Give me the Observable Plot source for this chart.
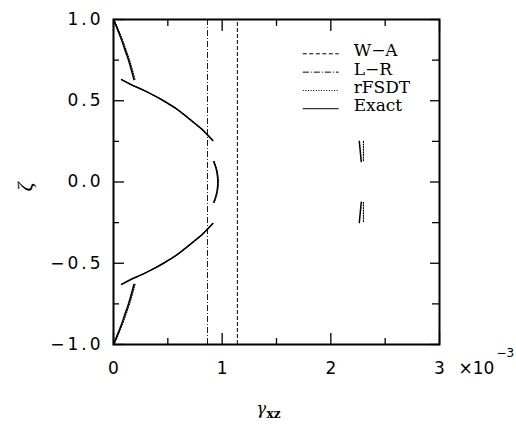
<!DOCTYPE html>
<html>
<head>
<meta charset="utf-8">
<script src="https://cdn.jsdelivr.net/npm/d3@7"></script>
<script src="https://cdn.jsdelivr.net/npm/@observablehq/plot@0.6"></script>
<style>
  html, body { margin: 0; padding: 0; background: white; }
</style>
</head>
<body>
<div id="chart"></div>
<script>
// ---- data (gamma_xz in units of 1e-3, zeta in [-1,1]) ----
const zetaTopFace   = [1.0, 0.95, 0.894, 0.85, 0.809, 0.77, 0.727, 0.68, 0.63];
const exactTopFace  = [0.0, 0.03, 0.063, 0.087, 0.107, 0.128, 0.148, 0.168, 0.188];
const rfsdtTopFace  = [0.005, 0.037, 0.071, 0.096, 0.117, 0.138, 0.158, 0.178, 0.198];

const zetaLayer2    = [0.63, 0.6, 0.567, 0.53, 0.5, 0.45, 0.409, 0.36, 0.327, 0.29, 0.255];
const exactLayer2   = [0.074, 0.16, 0.27, 0.38, 0.46, 0.58, 0.66, 0.75, 0.81, 0.865, 0.914];

const zetaShear     = [0.25, 0.125];
const exactShear    = [2.262, 2.28];
const rfsdtShear    = [2.30, 2.30];

const zetaCore      = [0.125, 0.08, 0.04, 0.0, -0.04, -0.08, -0.125];
const exactCore     = [0.923, 0.945, 0.956, 0.96, 0.956, 0.945, 0.923];
const rfsdtCore     = [0.927, 0.95, 0.961, 0.965, 0.961, 0.95, 0.927];

const zetaShearLow  = [-0.125, -0.25];
const exactShearLow = [2.28, 2.262];
const rfsdtShearLow = [2.30, 2.30];

const zetaLayer2Low = [-0.255, -0.29, -0.327, -0.36, -0.409, -0.45, -0.5, -0.53, -0.567, -0.6, -0.63];
const exactLayer2Low= [0.914, 0.865, 0.81, 0.75, 0.66, 0.58, 0.46, 0.38, 0.27, 0.16, 0.074];

const zetaBotFace   = [-0.63, -0.68, -0.727, -0.77, -0.809, -0.85, -0.894, -0.95, -1.0];
const exactBotFace  = [0.188, 0.168, 0.148, 0.128, 0.107, 0.087, 0.063, 0.03, 0.0];
const rfsdtBotFace  = [0.198, 0.178, 0.158, 0.138, 0.117, 0.096, 0.071, 0.037, 0.005];

// Constant solutions
const waValue = [1.14];   // W-A
const lrValue = [0.865];  // L-R

// Ticks
const xMajor = [0, 1, 2, 3];
const xMinor = [0.5, 1.5, 2.5];
const yMajor = [-1, -0.5, 0, 0.5, 1];
const yMinor = [-0.75, -0.25, 0.25, 0.75];

// Legend
const legendLabels = ["W−A", "L−R", "rFSDT", "Exact"];
const legendZeta   = [0.789, 0.676, 0.563, 0.451];
const legendX      = [1.747, 2.077, 2.21];

// Axis titles
const yTitle = "ζ";
const xTitle = ["γ", "xz"];
const xExponent = ["×10", "\u22123"];

// ---- tables built from the arrays ----
function seg(name, zs, gs) { return zs.map((z, i) => ({seg: name, zeta: z, gamma: gs[i]})); }
const exact = [
  ...seg("face", zetaTopFace, exactTopFace),
  ...seg("l2", zetaLayer2, exactLayer2),
  ...seg("sh", zetaShear, exactShear),
  ...seg("core", zetaCore, exactCore),
  ...seg("shl", zetaShearLow, exactShearLow),
  ...seg("l2l", zetaLayer2Low, exactLayer2Low),
  ...seg("facel", zetaBotFace, exactBotFace)
];
const rfsdt = [
  ...seg("face", zetaTopFace, rfsdtTopFace),
  ...seg("l2", zetaLayer2, exactLayer2),
  ...seg("sh", zetaShear, rfsdtShear),
  ...seg("core", zetaCore, rfsdtCore),
  ...seg("shl", zetaShearLow, rfsdtShearLow),
  ...seg("l2l", zetaLayer2Low, exactLayer2Low),
  ...seg("facel", zetaBotFace, rfsdtBotFace)
];
const legend = legendLabels.map((t, i) => ({label: t, zeta: legendZeta[i]}));
const dashes = ["4,2.5", "6,2,1,2", "1,1.6", null];

const blank = () => "";
const fmtY = d => d.toFixed(1).replace("-", "\u2212");

const marks = [
  Plot.ruleX(waValue, {x: d => d, y1: -1, y2: 1, strokeWidth: 1, strokeDasharray: "4,2"}),
  Plot.ruleX(lrValue, {x: d => d, y1: -1, y2: 1, strokeWidth: 0.9, strokeDasharray: "6,2,1,2"}),
  Plot.line(rfsdt, {x: "gamma", y: "zeta", z: "seg", strokeWidth: 1.2, strokeDasharray: "1,1.6", curve: "linear"}),
  Plot.line(exact, {x: "gamma", y: "zeta", z: "seg", strokeWidth: 1.5, curve: "catmull-rom"}),
  ...legend.map((d, i) => Plot.ruleY([d], {y: "zeta", x1: legendX[0], x2: legendX[1], strokeWidth: 1, strokeDasharray: dashes[i]})),
  Plot.text(legend, {x: legendX[2], y: "zeta", text: "label", textAnchor: "start", lineAnchor: "bottom", dy: 2.5, fontFamily: "DejaVu Serif", fontSize: 17}),
  Plot.axisX({ticks: xMajor, tickSize: -11, tickFormat: blank, strokeWidth: 1.3}),
  Plot.axisX({ticks: xMinor, tickSize: -6, tickFormat: blank, strokeWidth: 1.3}),
  Plot.axisX({anchor: "top", ticks: xMajor, tickSize: -11, tickFormat: blank, strokeWidth: 1.3}),
  Plot.axisX({anchor: "top", ticks: xMinor, tickSize: -6, tickFormat: blank, strokeWidth: 1.3}),
  Plot.axisY({ticks: yMajor, tickSize: -11, tickFormat: blank, strokeWidth: 1.3}),
  Plot.axisY({ticks: yMinor, tickSize: -6, tickFormat: blank, strokeWidth: 1.3}),
  Plot.axisY({anchor: "right", ticks: yMajor, tickSize: -10, tickFormat: blank, strokeWidth: 1.3}),
  Plot.axisY({anchor: "right", ticks: yMinor, tickSize: -8, tickFormat: blank, strokeWidth: 1.3}),
  Plot.axisX({ticks: xMajor, tickSize: 0, tickPadding: 17, tickFormat: d => String(d), fontSize: 17, fontFamily: "DejaVu Sans"}),
  Plot.axisY({ticks: yMajor, tickSize: 0, tickPadding: 10, tickFormat: fmtY, fontSize: 17, fontFamily: "DejaVu Sans"}),
  Plot.text([xExponent[0]], {x: 3, y: -1, text: d => d, textAnchor: "start", lineAnchor: "bottom", dx: 19, dy: 29.5, fontSize: 17, fontFamily: "DejaVu Sans"}),
  Plot.text([xExponent[1]], {x: 3, y: -1, text: d => d, textAnchor: "start", lineAnchor: "bottom", dx: 57, dy: 12, fontSize: 12, fontFamily: "DejaVu Sans"}),
  Plot.text([xTitle[0]], {frameAnchor: "bottom", text: d => d, textAnchor: "start", lineAnchor: "bottom", dx: -20, dy: 69.5, fontSize: 16, fontStyle: "italic", fontFamily: "DejaVu Serif"}),
  Plot.text([xTitle[1]], {frameAnchor: "bottom", text: d => d, textAnchor: "start", lineAnchor: "bottom", dx: -10, dy: 73.5, fontSize: 12, fontWeight: "bold", fontFamily: "DejaVu Serif"}),
  Plot.frame({strokeWidth: 2})
];

const chart = Plot.plot({
  width: 516,
  height: 428,
  marginLeft: 113,
  marginRight: 77,
  marginTop: 19,
  marginBottom: 84,
  x: {domain: [0, 3], label: null},
  y: {domain: [-1, 1], label: null},
  style: {background: "white", color: "black", fontFamily: "DejaVu Sans", fontSize: "17px"},
  marks
});

// widen the y tick-label spacing like the original
d3.select(chart).selectAll("text").filter(function() {
  return /^[\u22120-9.]+$/.test(this.textContent) && this.textContent.includes(".");
}).style("letter-spacing", "3px");

// rotated y-axis title
d3.select(chart).append("text")
  .attr("transform", `translate(32,187) rotate(-90)`)
  .attr("text-anchor", "middle")
  .attr("font-family", "Liberation Serif")
  .attr("font-style", "italic")
  .attr("font-size", 22)
  .attr("fill", "black")
  .text(yTitle);

document.getElementById("chart").appendChild(chart);
</script>
</body>
</html>
